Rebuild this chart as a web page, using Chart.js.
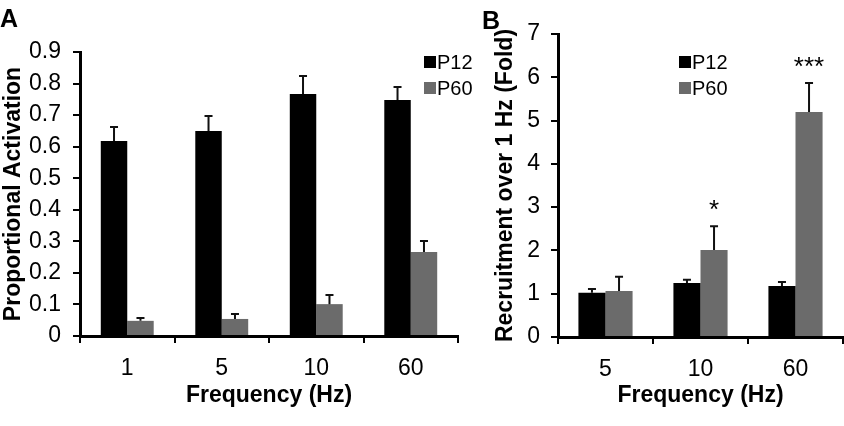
<!DOCTYPE html>
<html>
<head>
<meta charset="utf-8">
<script src="https://cdn.jsdelivr.net/npm/chart.js@4.4.0/dist/chart.umd.min.js"></script>
<style>
  html, body { margin: 0; padding: 0; background: #fff; }
  body { width: 844px; height: 426px; position: relative; overflow: hidden; }
  .panel { position: absolute; top: 0; height: 426px; }
  #panel-a { left: 0; width: 482px; }
  #panel-b { left: 462px; width: 382px; }
</style>
</head>
<body>
<div class="panel" id="panel-a"><canvas id="chart-a"></canvas></div>
<div class="panel" id="panel-b"><canvas id="chart-b"></canvas></div>
<script>
// series
const seriesNames = ['P12', 'P60'];
const seriesColors = ['#000000', '#6b6b6b'];

// panel A - proportional activation
const freqA = ['1', '5', '10', '60'];
const activationP12 = [0.618, 0.650, 0.767, 0.748];
const activationP60 = [0.048, 0.054, 0.101, 0.266];
const activationErrP12 = [0.044, 0.047, 0.057, 0.041];
const activationErrP60 = [0.009, 0.016, 0.029, 0.035];

// panel B - recruitment over 1 Hz
const freqB = ['5', '10', '60'];
const foldP12 = [1.02, 1.25, 1.18];
const foldP60 = [1.06, 2.01, 5.20];
const foldErrP12 = [0.09, 0.07, 0.09];
const foldErrP60 = [0.33, 0.55, 0.67];
const starsP60 = ['', '*', '***'];

const FONT = "'Liberation Sans', Arial, sans-serif";
Chart.defaults.font.family = FONT;
Chart.defaults.color = '#000';

// error bars + significance stars + panel letter + legend
function decorPlugin(opts) {
    return {
        id: 'decor',
        afterDatasetsDraw(chart) {
            const ctx = chart.ctx;
            const y = chart.scales.y;
            ctx.save();
            chart.data.datasets.forEach((ds, d) => {
                const meta = chart.getDatasetMeta(d);
                meta.data.forEach((bar, i) => {
                    const top = y.getPixelForValue(ds.data[i] + ds.errors[i]);
                    ctx.strokeStyle = '#111';
                    ctx.lineWidth = 2;
                    ctx.beginPath();
                    ctx.moveTo(bar.x, bar.y);
                    ctx.lineTo(bar.x, top);
                    ctx.moveTo(bar.x - 4, top);
                    ctx.lineTo(bar.x + 4, top);
                    ctx.stroke();
                    if (ds.stars && ds.stars[i]) {
                        ctx.fillStyle = '#000';
                        ctx.font = '26px ' + FONT;
                        ctx.textAlign = 'center';
                        ctx.textBaseline = 'alphabetic';
                        ctx.fillText(ds.stars[i], bar.x, top - 8);
                    }
                });
            });
            ctx.restore();
        },
        afterDraw(chart) {
            const ctx = chart.ctx;
            ctx.save();
            ctx.fillStyle = '#000';
            ctx.font = 'bold 25px ' + FONT;
            ctx.textAlign = 'left';
            ctx.textBaseline = 'alphabetic';
            ctx.fillText(opts.letter, opts.letterX, opts.letterY);

            ctx.font = '20px ' + FONT;
            ctx.textBaseline = 'middle';
            chart.data.datasets.forEach((ds, d) => {
                const rowY = opts.legendY + d * 26;
                ctx.fillStyle = ds.backgroundColor;
                ctx.fillRect(opts.legendX, rowY - 6, 12, 12);
                ctx.fillStyle = '#000';
                ctx.fillText(ds.label, opts.legendX + 13, rowY + 1);
            });
            ctx.restore();
        }
    };
}

function makeChart(canvasId, cfg) {
    return new Chart(document.getElementById(canvasId), {
        type: 'bar',
        data: {
            labels: cfg.labels,
            datasets: cfg.series.map((values, k) => ({
                label: seriesNames[k],
                data: values,
                errors: cfg.errors[k],
                stars: cfg.stars ? cfg.stars[k] : null,
                backgroundColor: seriesColors[k],
                borderWidth: 0,
                categoryPercentage: cfg.catPct,
                barPercentage: 1.0
            }))
        },
        options: {
            responsive: true,
            maintainAspectRatio: false,
            animation: false,
            events: [],
            layout: { padding: cfg.padding },
            plugins: {
                legend: { display: false },
                title: { display: false },
                tooltip: { enabled: false }
            },
            scales: {
                x: {
                    afterFit: s => { s.height = cfg.xHeight; },
                    grid: {
                        drawOnChartArea: false,
                        drawTicks: true,
                        tickLength: 7,
                        color: '#000',
                        lineWidth: 2,
                        offset: true
                    },
                    border: { display: true, color: '#000', width: 3 },
                    ticks: { font: { size: 23 }, color: '#000', padding: 12 },
                    title: {
                        display: true,
                        text: 'Frequency (Hz)',
                        font: { size: 23, weight: 'bold' },
                        color: '#000',
                        padding: { top: 0, bottom: 17 }
                    }
                },
                y: {
                    min: cfg.yMin,
                    max: cfg.yMax,
                    afterFit: s => { s.width = cfg.yWidth; },
                    grid: {
                        drawOnChartArea: false,
                        drawTicks: true,
                        tickLength: 7,
                        color: '#000',
                        lineWidth: 2
                    },
                    border: { display: true, color: '#000', width: 3 },
                    ticks: {
                        stepSize: cfg.yStep,
                        font: { size: 23 },
                        color: '#000',
                        padding: cfg.yTickPad,
                        callback: v => String(+v.toFixed(1))
                    },
                    title: {
                        display: true,
                        text: cfg.yTitle,
                        font: { size: 23, weight: 'bold' },
                        color: '#000',
                        padding: { top: cfg.yTitlePad, bottom: 0 }
                    }
                }
            }
        },
        plugins: [decorPlugin(cfg.decor)]
    });
}

makeChart('chart-a', {
    labels: freqA,
    series: [activationP12, activationP60],
    errors: [activationErrP12, activationErrP60],
    catPct: 0.56,
    yMin: 0, yMax: 0.9, yStep: 0.1,
    yTitle: 'Proportional Activation',
    yWidth: 80, yTickPad: 12, yTitlePad: 0,
    xHeight: 90,
    padding: { top: 52, right: 24, left: 0, bottom: 0 },
    decor: { letter: 'A', letterX: 0, letterY: 27, legendX: 424, legendY: 62 }
});

makeChart('chart-b', {
    labels: freqB,
    series: [foldP12, foldP60],
    errors: [foldErrP12, foldErrP60],
    stars: [null, starsP60],
    catPct: 0.57,
    yMin: 0, yMax: 7, yStep: 1,
    yTitle: 'Recruitment over 1 Hz (Fold)',
    yWidth: 96, yTickPad: 11, yTitlePad: 30,
    xHeight: 89,
    padding: { top: 34, right: 1, left: 0, bottom: 0 },
    decor: { letter: 'B', letterX: 20, letterY: 29, legendX: 217, legendY: 62 }
});
</script>
</body>
</html>
